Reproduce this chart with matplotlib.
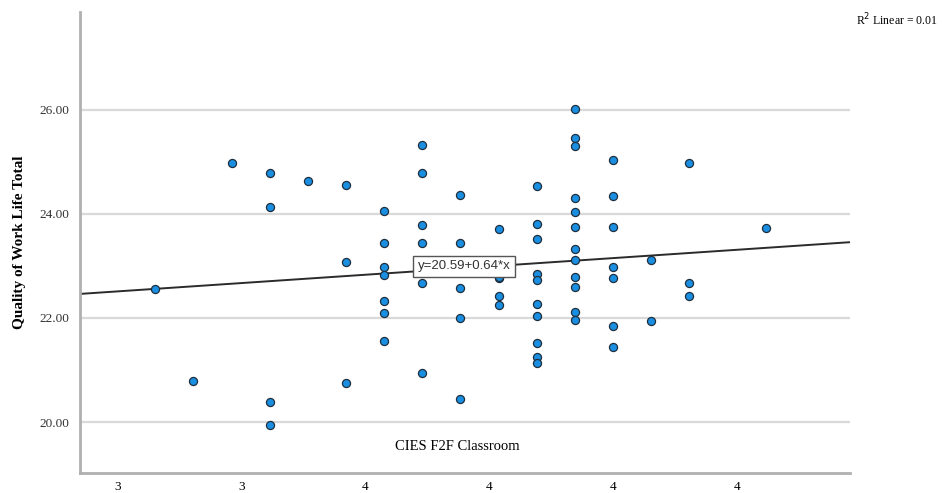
import numpy as np
import matplotlib
matplotlib.use("Agg")
import matplotlib.pyplot as plt

# classroom score (k/13 steps) and work life total, one list per column of points
class_score = [40, 41, 42, 43, 43, 43, 43, 44,
               45, 45, 45,
               46, 46, 46, 46, 46, 46, 46,
               47, 47, 47, 47, 47, 47,
               48, 48, 48, 48, 48,
               49, 49, 49, 49, 49,
               50, 50, 50, 50, 50, 50, 50, 50, 50, 50,
               51, 51, 51, 51, 51, 51, 51, 51, 51, 51, 51, 51,
               52, 52, 52, 52, 52, 52, 52,
               53, 53,
               54, 54, 54,
               56]
qwl_total = [22.56, 20.79, 24.97, 24.78, 24.13, 20.39, 19.94, 24.64,
             24.56, 23.07, 20.75,
             24.05, 23.44, 22.97, 22.82, 22.33, 22.10, 21.56,
             25.32, 24.79, 23.79, 23.44, 22.67, 20.95,
             24.37, 23.44, 22.58, 22.00, 20.44,
             23.71, 22.76, 22.43, 22.24, 22.78,
             24.53, 23.81, 23.52, 22.84, 22.73, 22.26, 22.03, 21.52, 21.24, 21.13,
             26.01, 25.45, 25.31, 24.30, 24.03, 23.75, 23.33, 23.11, 22.78, 22.60, 22.12, 21.96,
             25.04, 24.34, 23.75, 22.98, 22.76, 21.84, 21.44,
             23.11, 21.94,
             24.97, 22.67, 22.42,
             23.72]
x = np.array(class_score) / 13.0
y = np.array(qwl_total)

# fit line as reported by SPSS
intercept = 20.59
slope = 0.64

xticks = [3.0, 3.25, 3.5, 3.75, 4.0, 4.25]
xtick_labels = ["3", "3", "4", "4", "4", "4"]
yticks = [20, 22, 24, 26]

fig = plt.figure(figsize=(9.42, 4.93), dpi=100)
ax = fig.add_axes([80 / 942, 20 / 493, 770 / 942, 461 / 493])

xmin, xmax = 2.925, 4.478
ax.set_xlim(xmin, xmax)
ax.set_ylim(19.02, 27.88)

for v in yticks:
    ax.axhline(v, color="#d9d9d9", lw=1.6, zorder=1)

ax.scatter(x, y, s=34, color="#1a8ee0", edgecolors="#1f2f3f", linewidths=0.9, zorder=3)

lx = np.array([xmin, xmax])
ax.plot(lx, intercept + slope * lx, color="#2b2b2b", lw=1.4, zorder=2)

ax.text(3.70, 22.99, "y=20.59+0.64*x", fontsize=9.5, family="Liberation Sans",
        color="#333333", ha="center", va="center", zorder=4,
        bbox=dict(boxstyle="square,pad=0.35", fc="white", ec="#555555", lw=1))

ax.text(0.49, 0.057, "CIES F2F Classroom", transform=ax.transAxes, fontsize=10.5,
        family="Liberation Serif", ha="center", va="center")

ax.set_xticks(xticks)
ax.set_xticklabels(xtick_labels, family="Liberation Serif", fontsize=9.5)
ax.set_yticks(yticks)
ax.set_yticklabels(["%.2f" % v for v in yticks], family="Liberation Serif", fontsize=9.5, color="#333333")
ax.tick_params(axis="y", length=0, pad=8)
ax.tick_params(axis="x", length=0, pad=6)

for side in ["top", "right"]:
    ax.spines[side].set_visible(False)
for side in ["left", "bottom"]:
    ax.spines[side].set_color("#b0b0b0")
    ax.spines[side].set_linewidth(2)

ax.set_ylabel("Quality of Work Life Total", family="Liberation Serif", fontsize=11,
              fontweight="bold")
ax.yaxis.set_label_coords(-54 / 770, 0.5)

fig.text(938 / 942, 1 - 20 / 493, "R$^2$ Linear = 0.01", family="Liberation Serif",
         fontsize=8.5, ha="right", va="center")

fig.savefig("out.png", dpi=100)
